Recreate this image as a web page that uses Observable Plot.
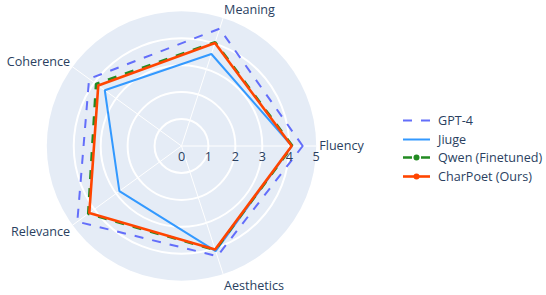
<!DOCTYPE html>
<html><head><meta charset="utf-8">
<script src="https://cdn.jsdelivr.net/npm/d3@7"></script>
<script src="https://cdn.jsdelivr.net/npm/@observablehq/plot@0.6"></script>
<style>
html,body{margin:0;padding:0;background:#fff;}
#wrap{position:relative;width:546px;height:295px;font-family:"Open Sans",sans-serif;}
#wrap svg.plot{position:absolute;left:0;top:0;}
.leg{position:absolute;left:400px;height:19px;display:flex;align-items:center;font-size:12.6px;color:#2a3f5f;white-space:nowrap;}
.leg svg{margin-right:5px;}
</style></head><body><div id="wrap"></div>
<script>
// ---- data ----
const axes = ["Fluency", "Meaning", "Coherence", "Relevance", "Aesthetics"];
const radialTicks = [0, 1, 2, 3, 4, 5];
const gridRings = [1, 2, 3, 4];
const rMax = 5;
const seriesNames = ["GPT-4", "Jiuge", "Qwen (Finetuned)", "CharPoet (Ours)"];
const gpt4     = [4.50, 4.58, 4.24, 4.78, 4.30];
const jiuge    = [4.10, 3.59, 3.52, 2.85, 4.10];
const qwen     = [4.12, 4.05, 3.92, 4.28, 4.06];
const charpoet = [4.09, 4.02, 3.82, 4.23, 4.04];

// ---- styling ----
const styles = [
  {stroke: "#636efa", strokeWidth: 2, dash: "9,9", marker: false},
  {stroke: "#3399ff", strokeWidth: 2, dash: null, marker: false},
  {stroke: "#228b22", strokeWidth: 2.6, dash: "9,9", marker: true},
  {stroke: "#ff4500", strokeWidth: 2.6, dash: null, marker: true}
];
const seriesValues = [gpt4, jiuge, qwen, charpoet];

const W = 546, H = 295;
const cx = 181, cy = 145.5, R = 134.7;
const FS = 12.6;
const ang = i => i * 2 * Math.PI / axes.length;
const px = (v, i) => v * Math.cos(ang(i));
const py = (v, i) => v * Math.sin(ang(i));
const textColor = "#2a3f5f";

const series = seriesValues.map((vals, s) =>
  axes.map((a, i) => ({series: seriesNames[s], axis: a, i, v: vals[i]})));

const marks = [
  Plot.dot([rMax], {x: 0, y: 0, r: d => d, fill: "#e5ecf6", stroke: "none"}),
  Plot.dot(gridRings, {x: 0, y: 0, r: d => d, fill: "none", stroke: "white", strokeWidth: 2}),
  Plot.link(axes, {x1: 0, y1: 0, x2: (d, i) => px(rMax, i), y2: (d, i) => py(rMax, i), stroke: "white", strokeWidth: 1})
];
series.forEach((data, s) => {
  const st = styles[s];
  marks.push(Plot.line(data, {
    x: d => px(d.v, d.i), y: d => py(d.v, d.i), curve: "linear-closed",
    stroke: st.stroke, strokeWidth: st.strokeWidth,
    strokeDasharray: st.dash || undefined, strokeLinecap: "butt", strokeLinejoin: "miter"
  }));
  if (st.marker) marks.push(Plot.dot(data, {x: d => px(d.v, d.i), y: d => py(d.v, d.i), r: 3.5 * rMax / R, fill: st.stroke, stroke: "none"}));
});
marks.push(Plot.text(radialTicks, {x: d => d, y: 0, dy: 11, text: d => String(d), fill: textColor, fontSize: FS}));
axes.forEach((a, i) => {
  const c = Math.cos(ang(i)), s = Math.sin(ang(i));
  const anchor = c > 0.1 ? "start" : c < -0.1 ? "end" : "middle";
  const dy = s > 0 ? -s * 8.5 : -s * 12;
  marks.push(Plot.text([a], {x: px(rMax, i), y: py(rMax, i), text: d => d, textAnchor: anchor,
    dx: c * 3, dy, fill: textColor, fontSize: FS}));
});

const chart = Plot.plot({
  width: W, height: H,
  marginLeft: cx - R, marginRight: W - (cx + R),
  marginTop: cy - R, marginBottom: H - (cy + R),
  x: {domain: [-rMax, rMax], axis: null},
  y: {domain: [-rMax, rMax], axis: null},
  r: {type: "linear", domain: [0, rMax], range: [0, R]},
  style: {fontFamily: "Open Sans", fontSize: FS + "px", background: "white", overflow: "visible"},
  marks
});
const wrap = document.getElementById("wrap");
wrap.appendChild(chart);

// legend
const legendTops = [110.5, 129.5, 148.2, 167.2];
seriesNames.forEach((name, s) => {
  const st = styles[s];
  const div = document.createElement("div");
  div.className = "leg";
  div.style.top = legendTops[s] + "px";
  const svg = d3.create("svg").attr("width", 33).attr("height", 19);
  svg.append("line").attr("x1", 3).attr("x2", 30).attr("y1", 9.5).attr("y2", 9.5)
    .attr("stroke", st.stroke).attr("stroke-width", st.strokeWidth)
    .attr("stroke-dasharray", st.dash || null);
  if (st.marker) svg.append("circle").attr("cx", 16.5).attr("cy", 9.5).attr("r", 3).attr("fill", st.stroke);
  div.appendChild(svg.node());
  const span = document.createElement("span");
  span.textContent = name;
  div.appendChild(span);
  wrap.appendChild(div);
});
</script></body></html>
